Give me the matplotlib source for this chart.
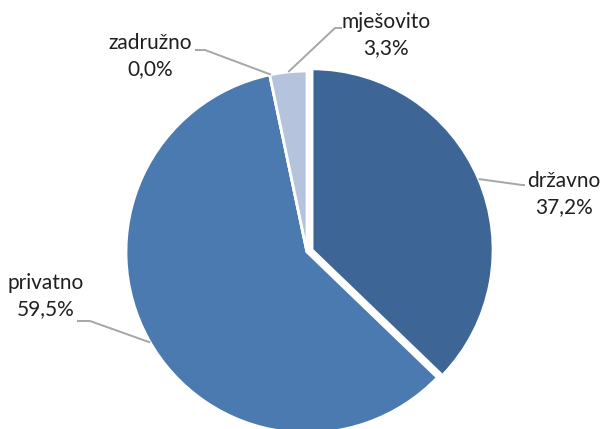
import numpy as np
import matplotlib.pyplot as plt

plt.rcParams['font.family'] = ['Lato', 'DejaVu Sans']

categories = ['državno', 'privatno', 'zadružno', 'mješovito']
shares = [37.2, 59.5, 0.0, 3.3]
colors = ['#3D6596', '#4A7AB0', '#4A7AB0', '#B5C3DD']
explode = [5.5, 0, 0, 0]  # pie explode is in data units here (radius=181)

# label text positions (pixel space, y from top) and leader line points
label_pos = [(564, 194), (46, 296), (150, 56), (386, 35)]
line_angles = [None, 210, 101.5, None]   # None -> wedge mid angle
elbows = [(522, 185), (90, 321), (205, 50), (335, 28)]
line_ends = [(525, 185), (77, 321), (195, 50), (342, 28)]

W, H = 600, 429
cx, cy, r = 307, H - 252, 181

fig = plt.figure(figsize=(6, 4.29), dpi=100)
ax = fig.add_axes([0, 0, 1, 1])
wedges, _ = ax.pie(shares, colors=colors, explode=explode, startangle=90,
                   counterclock=False, center=(cx, cy), radius=r,
                   wedgeprops=dict(edgecolor='white', linewidth=2))
ax.set_xlim(0, W)
ax.set_ylim(0, H)
ax.set_aspect('equal')
ax.axis('off')

for i, w in enumerate(wedges):
    a = line_angles[i]
    if a is None:
        a = (w.theta1 + w.theta2) / 2
    a = np.deg2rad(a)
    wx, wy = w.center
    sx = wx + r * np.cos(a)
    sy = wy + r * np.sin(a)
    ex, ey = elbows[i]
    lx, ly = line_ends[i]
    ax.plot([sx, ex, lx], [sy, H - ey, H - ly], color='#A6A6A6', lw=1.4,
            solid_capstyle='butt')
    tx, ty = label_pos[i]
    pct = f'{shares[i]:.1f}%'.replace('.', ',')
    ax.text(tx, H - ty, f'{categories[i]}\n{pct}', ha='center', va='center',
            fontsize=15, color='#1F1F1F', linespacing=1.33)

fig.savefig('out.png', dpi=100)
